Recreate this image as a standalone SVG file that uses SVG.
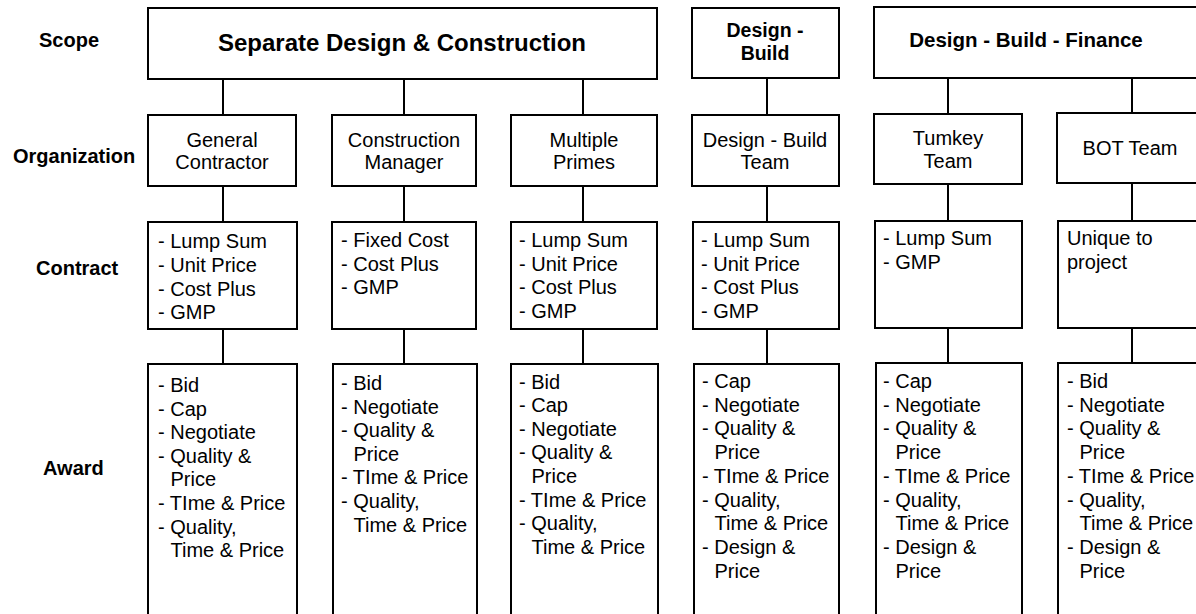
<svg xmlns="http://www.w3.org/2000/svg" width="1196" height="614" viewBox="0 0 1196 614">
<style>
.box{fill:#fff;stroke:#000;stroke-width:2}
.c{stroke:#000;stroke-width:2;fill:none}
text{font-family:"Liberation Sans",Arial,sans-serif;font-size:20px;fill:#000}
.b{font-weight:bold}
.m{text-anchor:middle}
.lbl{font-weight:bold;font-size:20px}
.h1{font-size:24px}
.h2{font-size:19.5px}
.h3{font-size:20.5px}
</style>
<rect width="1196" height="614" fill="#fff"/>
<g id="labels">
<text class="lbl" x="39" y="47">Scope</text>
<text class="lbl" x="13" y="163">Organization</text>
<text class="lbl" x="36" y="275">Contract</text>
<text class="lbl" x="43" y="475">Award</text>
</g>
<g id="connectors">
<path class="c" d="M223 79V115M404 79V115M583 79V115M767 78V115M948 78V114M1132 78V113"/>
<path class="c" d="M223 186V222M404 186V222M583 186V222M767 186V222M948 184V221M1132 183V221"/>
<path class="c" d="M223 329V364M404 329V364M583 329V364M767 329V364M948 328V363M1132 328V363"/>
</g>
<g id="scope-separate"><rect class="box" x="148" y="8" width="509" height="71"/><text class="b m h1" x="402" y="51">Separate Design &amp; Construction</text></g>
<g id="scope-db"><rect class="box" x="692" y="8" width="147" height="70"/><text class="b m h2" x="765" y="37">Design -</text><text class="b m h2" x="765" y="60">Build</text></g>
<g id="scope-dbf"><rect class="box" x="874" y="7" width="340" height="71"/><text class="b m h3" x="1026" y="47">Design - Build - Finance</text></g>

<g id="org-gc"><rect class="box" x="148" y="115" width="148" height="71"/><text class="m" x="222" y="147">General</text><text class="m" x="222" y="169">Contractor</text></g>
<g id="org-cm"><rect class="box" x="332" y="115" width="144" height="71"/><text class="m" x="404" y="147">Construction</text><text class="m" x="404" y="169">Manager</text></g>
<g id="org-mp"><rect class="box" x="511" y="115" width="146" height="71"/><text class="m" x="584" y="147">Multiple</text><text class="m" x="584" y="169">Primes</text></g>
<g id="org-dbt"><rect class="box" x="692" y="115" width="147" height="71"/><text class="m" x="765" y="147">Design - Build</text><text class="m" x="765" y="169">Team</text></g>
<g id="org-tk"><rect class="box" x="874" y="114" width="148" height="70"/><text class="m" x="948" y="145">Tumkey</text><text class="m" x="948" y="168">Team</text></g>
<g id="org-bot"><rect class="box" x="1057" y="113" width="160" height="70"/><text class="m" x="1130" y="155">BOT Team</text></g>

<g id="contract-gc"><rect class="box" x="148" y="222" width="149" height="107"/>
<text x="158" y="248">- Lump Sum</text><text x="158" y="272">- Unit Price</text><text x="158" y="296">- Cost Plus</text><text x="158" y="319">- GMP</text></g>
<g id="contract-cm"><rect class="box" x="332" y="222" width="144" height="107"/>
<text x="341" y="247">- Fixed Cost</text><text x="341" y="271">- Cost Plus</text><text x="341" y="294">- GMP</text></g>
<g id="contract-mp"><rect class="box" x="511" y="222" width="146" height="107"/>
<text x="519" y="247">- Lump Sum</text><text x="519" y="271">- Unit Price</text><text x="519" y="294">- Cost Plus</text><text x="519" y="318">- GMP</text></g>
<g id="contract-dbt"><rect class="box" x="693" y="222" width="146" height="107"/>
<text x="701" y="247">- Lump Sum</text><text x="701" y="271">- Unit Price</text><text x="701" y="294">- Cost Plus</text><text x="701" y="318">- GMP</text></g>
<g id="contract-tk"><rect class="box" x="875" y="221" width="147" height="107"/>
<text x="883" y="245">- Lump Sum</text><text x="883" y="269">- GMP</text></g>
<g id="contract-bot"><rect class="box" x="1058" y="221" width="160" height="107"/>
<text x="1067" y="245">Unique to</text><text x="1067" y="269">project</text></g>

<g id="award-gc"><rect class="box" x="148" y="364" width="149" height="270"/>
<text x="158" y="392">- Bid</text><text x="158" y="415.6">- Cap</text><text x="158" y="439.2">- Negotiate</text><text x="158" y="462.8">- Quality &amp;</text><text x="170.5" y="486.4">Price</text><text x="158" y="510">- TIme &amp; Price</text><text x="158" y="533.6">- Quality,</text><text x="170.5" y="557.2">Time &amp; Price</text></g>
<g id="award-cm"><rect class="box" x="333" y="364" width="144" height="270"/>
<text x="341" y="390">- Bid</text><text x="341" y="413.6">- Negotiate</text><text x="341" y="437.2">- Quality &amp;</text><text x="353.5" y="460.8">Price</text><text x="341" y="484.4">- TIme &amp; Price</text><text x="341" y="508">- Quality,</text><text x="353.5" y="531.6">Time &amp; Price</text></g>
<g id="award-mp"><rect class="box" x="511" y="364" width="147" height="270"/>
<text x="519" y="388.5">- Bid</text><text x="519" y="412.1">- Cap</text><text x="519" y="435.7">- Negotiate</text><text x="519" y="459.3">- Quality &amp;</text><text x="531.5" y="482.9">Price</text><text x="519" y="506.5">- TIme &amp; Price</text><text x="519" y="530.1">- Quality,</text><text x="531.5" y="553.7">Time &amp; Price</text></g>
<g id="award-dbt"><rect class="box" x="694" y="364" width="145" height="270"/>
<text x="702" y="388">- Cap</text><text x="702" y="411.7">- Negotiate</text><text x="702" y="435.4">- Quality &amp;</text><text x="714.5" y="459.1">Price</text><text x="702" y="482.8">- TIme &amp; Price</text><text x="702" y="506.5">- Quality,</text><text x="714.5" y="530.2">Time &amp; Price</text><text x="702" y="553.9">- Design &amp;</text><text x="714.5" y="577.6">Price</text></g>
<g id="award-tk"><rect class="box" x="876" y="363" width="146" height="270"/>
<text x="883" y="388">- Cap</text><text x="883" y="411.7">- Negotiate</text><text x="883" y="435.4">- Quality &amp;</text><text x="895.5" y="459.1">Price</text><text x="883" y="482.8">- TIme &amp; Price</text><text x="883" y="506.5">- Quality,</text><text x="895.5" y="530.2">Time &amp; Price</text><text x="883" y="553.9">- Design &amp;</text><text x="895.5" y="577.6">Price</text></g>
<g id="award-bot"><rect class="box" x="1058" y="363" width="160" height="270"/>
<text x="1067" y="388">- Bid</text><text x="1067" y="411.7">- Negotiate</text><text x="1067" y="435.4">- Quality &amp;</text><text x="1079.5" y="459.1">Price</text><text x="1067" y="482.8">- TIme &amp; Price</text><text x="1067" y="506.5">- Quality,</text><text x="1079.5" y="530.2">Time &amp; Price</text><text x="1067" y="553.9">- Design &amp;</text><text x="1079.5" y="577.6">Price</text></g>
</svg>
